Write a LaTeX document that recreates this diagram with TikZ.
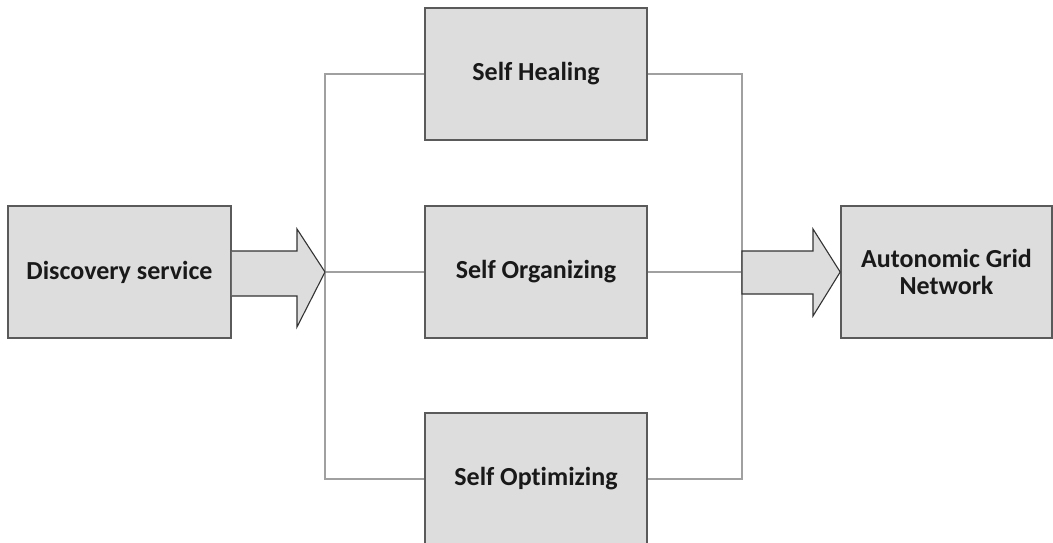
\documentclass[tikz,border=0pt]{standalone}
\usepackage{fontspec}
\setmainfont{Carlito}[Ligatures=NoCommon]
\usetikzlibrary{calc}
\definecolor{boxfill}{HTML}{DDDDDD}
\definecolor{boxline}{HTML}{5A5A5A}
\definecolor{wire}{HTML}{A0A0A0}
\tikzset{
  block/.style={draw=boxline, line width=1.6pt, fill=boxfill, inner sep=4pt,
    font=\bfseries\fontsize{26}{27}\selectfont, text=black!90, align=center},
  wireline/.style={draw=wire, line width=1.3pt},
  fatarrow/.style={draw=black!80, line width=1.1pt, fill=boxfill, line join=miter}
}
\begin{document}
\begin{tikzpicture}[x=1pt,y=-1pt]
\useasboundingbox (0,0) rectangle (1053,543);
\clip (0,0) rectangle (1053,543);

% boxes
\node[block, minimum width=223pt, minimum height=132pt] (disc) at (119.5,272) {Discovery service};
\node[block, minimum width=222pt, minimum height=132pt] (heal) at (536,74) {Self Healing};
\node[block, minimum width=222pt, minimum height=132pt] (org)  at (536,272) {Self Organizing};
\node[block, minimum width=222pt, minimum height=132pt] (opt)  at (536,479) {Self Optimizing};
\node[block, minimum width=211pt, minimum height=132pt] (auto) at (946.5,272) {Autonomic Grid\\Network};

% bus coordinates
\coordinate (ltop) at (325,74);
\coordinate (lbot) at (325,479);
\coordinate (ltip) at (325,272);
\coordinate (rtop) at (742,74);
\coordinate (rbot) at (742,479);
\coordinate (rmid) at (742,272);

% connector wires
\draw[wireline] (heal.west) -- (ltop) -- (lbot) -- (opt.west);
\draw[wireline] (ltip) -- (org.west);
\draw[wireline] (heal.east) -- (rtop) -- (rbot) -- (opt.east);
\draw[wireline] (org.east) -- (rmid);

% block arrow into the three functions
\draw[fatarrow] (disc.east |- 0,251) -- (297,251) -- (297,229) -- (ltip)
  -- (297,327) -- (297,296) -- (disc.east |- 0,296);

% block arrow into the grid network
\draw[fatarrow] (rmid |- 0,251) -- (813,251) -- (813,229) -- (auto.west)
  -- (813,316) -- (813,294) -- (rmid |- 0,294) -- cycle;
\end{tikzpicture}
\end{document}
